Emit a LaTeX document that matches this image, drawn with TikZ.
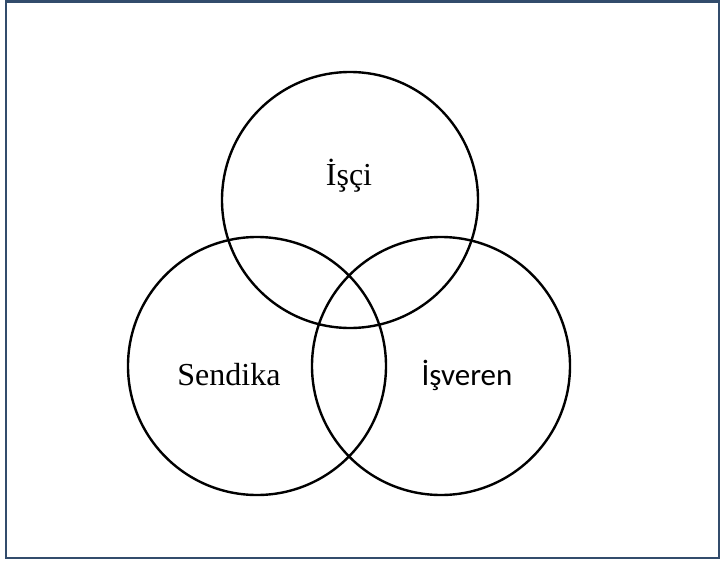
\documentclass[tikz,border=0pt]{standalone}
\usepackage{fontspec}
\setmainfont{Liberation Serif}
\newfontfamily\calibri{Carlito}
\usepackage{xcolor}
\definecolor{framecol}{RGB}{50,76,108}

\begin{document}
\begin{tikzpicture}[x=1pt,y=-1pt,
	ring/.style={draw=black,line width=2.4pt},
	lbl/.style={anchor=base,inner sep=0pt,font=\fontsize{32}{36}\selectfont}]
			\useasboundingbox (0,0) rectangle (725,562);
			\draw[framecol,line width=2.6pt] (6,1.5) rectangle (719,558);
			\coordinate (isci) at (350,200);
			\coordinate (sendika) at (257,366);
			\coordinate (isveren) at (441,366);
			\draw[ring] (isci) circle (128);
			\draw[ring] (sendika) circle (129);
			\draw[ring] (isveren) circle (129);
			\node[lbl] (t1) at (349,185) {İşçi};
			\node[lbl] (t2) at (229,385) {Sendika};
			\node[lbl,font=\calibri\fontsize{31}{36}\selectfont] (t3) at (467,385) {İşveren};
		\end{tikzpicture}
\end{document}
